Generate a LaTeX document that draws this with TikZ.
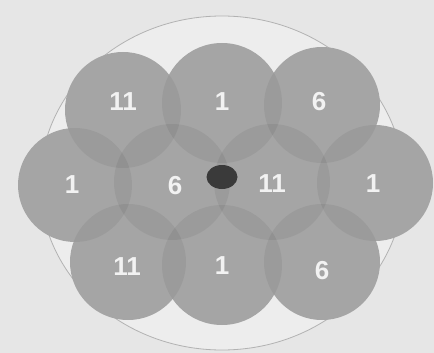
\documentclass[tikz,border=0pt]{standalone}
\usepackage{fontspec}
\setmainfont{Liberation Sans}
\usetikzlibrary{shapes.geometric}
\definecolor{bgcol}{HTML}{E6E6E6}
\definecolor{innercol}{HTML}{EDEDED}
\definecolor{cellcol}{HTML}{B0B0B0}
\definecolor{hubcol}{HTML}{3A3A3A}
\begin{document}
\begin{tikzpicture}[x=1pt,y=-1pt,
  lbl/.style={text=white!95!black, font=\bfseries\fontsize{26}{26}\selectfont, inner sep=0pt},
  hubdot/.style={ellipse, fill=hubcol, minimum width=31pt, minimum height=24pt, inner sep=0pt}]
\fill[bgcol] (0,0) rectangle (434,353);
\useasboundingbox (0,0) rectangle (434,353);
% outer coverage area
\draw[fill=innercol, draw=black!30, line width=0.8pt] (222,183) ellipse [x radius=182pt, y radius=167pt];
% cells (union)
\foreach \cx/\cy/\r in {123/110/58, 222/103/60, 322/105/58,
                        75/185/57, 172/182/58, 272/182/58, 375/183/58,
                        128/262/58, 222/265/60, 322/262/58}
  \fill[cellcol] (\cx,\cy) circle [radius=\r pt];
% overlap darkening
\foreach \cx/\cy/\r in {123/110/58, 222/103/60, 322/105/58,
                        75/185/57, 172/182/58, 272/182/58, 375/183/58,
                        128/262/58, 222/265/60, 322/262/58}
  \fill[black, opacity=0.06] (\cx,\cy) circle [radius=\r pt];
% access point
\node[hubdot] (hub) at (222,177) {};
% channel labels
\node[lbl] (t1) at (123,102) {11};
\node[lbl] (t2) at (222,102) {1};
\node[lbl] (t3) at (319,102) {6};
\node[lbl] (m1) at (72,185) {1};
\node[lbl] (m2) at (175,186) {6};
\node[lbl] (m3) at (272,184) {11};
\node[lbl] (m4) at (373,184) {1};
\node[lbl] (b1) at (127,267) {11};
\node[lbl] (b2) at (222,266) {1};
\node[lbl] (b3) at (322,271) {6};
\end{tikzpicture}
\end{document}
